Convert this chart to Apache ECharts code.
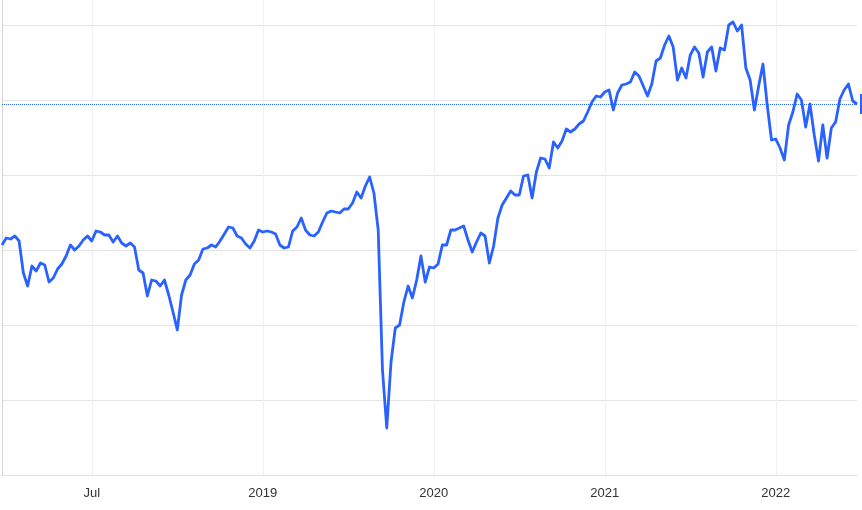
<!DOCTYPE html>
<html>
<head>
<meta charset="utf-8">
<script src="https://cdn.jsdelivr.net/npm/echarts@6/dist/echarts.min.js"></script>
<style>
html,body{margin:0;padding:0;background:#fff;}
#c{width:862px;height:510px;}
</style>
</head>
<body>
<div id="c"></div>
<script>
// Series values (index level, arbitrary units), one point per ~9 days
const values = [
230,237,236,239,234,202,189,209,204,212,
210,193,197,206,211,219,230,225,229,235,
239,234,244,243,240,240,233,239,232,229,
232,228,205,202,179,195,194,189,195,180,
163,145,180,195,200,211,215,226,227,230,
228,234,241,248,247,239,237,231,227,234,
245,243,244,243,241,230,227,228,244,248,
257,245,240,239,243,253,262,264,263,262,
266,266,272,283,277,289,298,282,245,105,
47,113,147,150,173,189,177,195,219,193,
208,207,211,230,230,245,245,247,249,235,
223,233,242,239,212,229,257,270,277,284,
280,280,299,300,277,303,317,316,307,333,
327,334,346,343,346,351,354,363,373,379,
378,383,385,365,382,390,391,393,403,399,
389,379,391,414,417,430,439,428,395,407,
397,420,428,422,398,423,428,404,427,425,
450,453,444,450,407,395,365,389,411,370,
335,336,327,315,350,363,381,375,348,371,
340,314,350,317,347,353,376,385,391,374,
371
];
// Categories: point indices
const categories = values.map((_, i) => i);
// Tick labels and the category index where each sits
const tickLabels = ["Jul", "2019", "2020", "2021", "2022"];
const tickIndex = [21, 61, 101, 141, 181];
const lastValue = values[values.length - 1];

const chart = echarts.init(document.getElementById('c'));
const isTick = (idx) => tickIndex.indexOf(idx) >= 0;
chart.setOption({
  animation: false,
  backgroundColor: '#ffffff',
  grid: { left: 2, right: 5, top: 0, bottom: 35, containLabel: false },
  xAxis: {
    type: 'category',
    data: categories,
    boundaryGap: false,
    axisLine: { show: true, lineStyle: { color: '#e0e0e0', width: 1 } },
    axisTick: { show: false },
    axisLabel: {
      interval: (idx) => isTick(idx),
      formatter: (val, idx) => {
        const k = tickIndex.indexOf(Number(val));
        return k >= 0 ? tickLabels[k] : '';
      },
      color: '#333333',
      fontSize: 13,
      fontFamily: 'Liberation Sans, Arial, sans-serif',
      margin: 12
    },
    splitLine: {
      show: true,
      interval: (idx) => isTick(idx),
      lineStyle: { color: '#eef1f6', width: 1 }
    }
  },
  yAxis: {
    type: 'value',
    min: 0,
    max: 475,
    interval: 75,
    axisLabel: { show: false },
    axisTick: { show: false },
    axisLine: { show: true, lineStyle: { color: '#d4d4d4', width: 1 } },
    splitLine: { show: true, showMaxLine: false, lineStyle: { color: '#e4e4e4', width: 1 } }
  },
  series: [{
    type: 'line',
    data: values,
    showSymbol: false,
    symbol: 'none',
    smooth: false,
    lineStyle: { color: '#2962ff', width: 2.8, join: 'round' },
    itemStyle: { color: '#2962ff' },
    markLine: {
      silent: true,
      symbol: 'none',
      data: [{ yAxis: lastValue }],
      lineStyle: { color: '#2962ff', type: 'dotted', width: 1 },
      label: {
        show: true,
        position: 'end',
        distance: 3,
        formatter: String(lastValue),
        color: '#ffffff',
        backgroundColor: '#2962ff',
        padding: [4, 6],
        fontSize: 12
      }
    }
  }]
});
</script>
</body>
</html>
